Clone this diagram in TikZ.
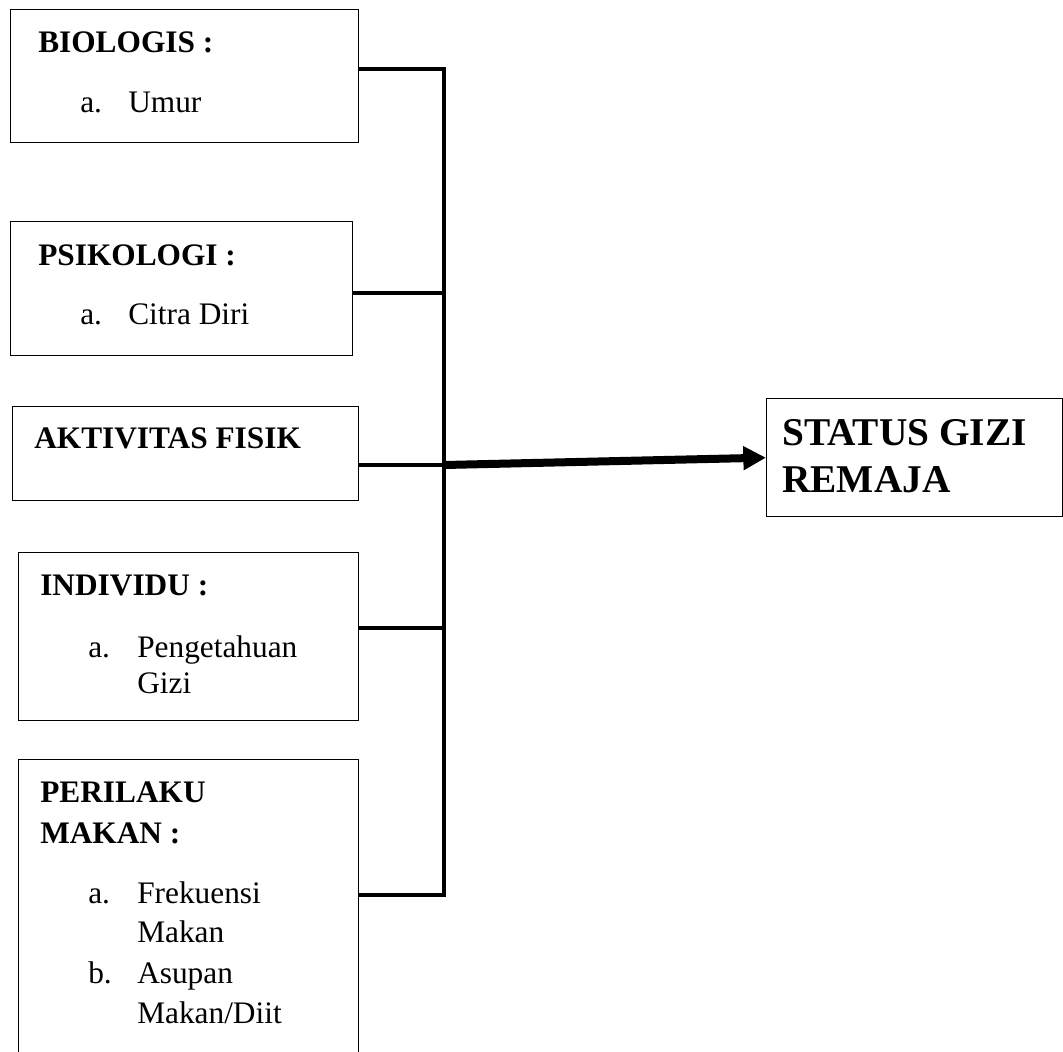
\documentclass[tikz,border=0pt]{standalone}
\usepackage{fontspec}
\setmainfont{Liberation Serif}
\usetikzlibrary{arrows.meta,calc}
\tikzset{
    faktor/.style = {
        draw,
        line width=1pt,
        rectangle,
        anchor=north west,
        inner sep=0pt,
        },
    judul/.style = {
        anchor=base west,
        inner sep=0pt,
        font=\fontsize{23.5pt}{30pt}\selectfont\bfseries,
        },
    isi/.style = {
        anchor=base west,
        inner sep=0pt,
        font=\fontsize{23.5pt}{30pt}\selectfont,
        },
    jalur/.style = {
        draw,
        line width=3.5pt,
        },
}

\begin{document}
\begin{tikzpicture}[x=0.75pt,y=-0.75pt]
            \clip (0,0) rectangle (1063,1051);
            \useasboundingbox (0,0) rectangle (1063,1051);
            % kotak faktor
            \node[faktor, minimum width=261pt, minimum height=99.75pt] (bio) at (10,9) {};
            \node[faktor, minimum width=256.5pt, minimum height=100.5pt] (psi) at (10,221) {};
            \node[faktor, minimum width=259.5pt, minimum height=70.5pt] (akt) at (12,406) {};
            \node[faktor, minimum width=255pt, minimum height=126pt] (ind) at (18,552) {};
            \node[faktor, minimum width=255pt, minimum height=233pt] (per) at (18,759) {};
            \node[faktor, minimum width=222pt, minimum height=88.5pt] (st) at (766,398) {};

            % teks
            \node[judul] (bio t) at (38,52) {BIOLOGIS :};
            \node[isi] (bio a) at (80,112) {a.};
            \node[isi] (bio a t) at (128,112) {Umur};
            \node[judul] (psi t) at (38,265) {PSIKOLOGI :};
            \node[isi] (psi a) at (80,324) {a.};
            \node[isi] (psi a t) at (128,324) {Citra Diri};
            \node[judul] (akt t) at (34,448) {AKTIVITAS FISIK};
            \node[judul] (ind t) at (40,595) {INDIVIDU :};
            \node[isi] (ind a) at (88,657) {a.};
            \node[isi] (ind a t) at (137,657) {Pengetahuan};
            \node[isi] (ind a t2) at (137,693) {Gizi};
            \node[judul] (per t) at (40,802) {PERILAKU};
            \node[judul] (per t2) at (40,843) {MAKAN :};
            \node[isi] (per a) at (88,903) {a.};
            \node[isi] (per a t) at (137,903) {Frekuensi};
            \node[isi] (per a t2) at (137,942) {Makan};
            \node[isi] (per b) at (88,983) {b.};
            \node[isi] (per b t) at (137,983) {Asupan};
            \node[isi] (per b t2) at (137,1023) {Makan/Diit};
            \node[judul, font=\fontsize{29.5pt}{35pt}\selectfont\bfseries] (st t) at (782,445) {STATUS GIZI};
            \node[judul, font=\fontsize{29.5pt}{35pt}\selectfont\bfseries] (st t2) at (782,492) {REMAJA};

            % garis penghubung
            \coordinate (j1) at (444,69);
            \coordinate (j2) at (444,293);
            \coordinate (j3) at (444,465);
            \coordinate (j4) at (444,628);
            \coordinate (j5) at (444,895);
            \path[jalur] (bio.east |- j1) -- (j1) -- (j5) -- (per.east |- j5);
            \path[jalur] (psi.east |- j2) -- (j2);
            \path[jalur] (akt.east |- j3) -- (j3);
            \path[jalur] (ind.east |- j4) -- (j4);
            \path[jalur, line width=6pt, -{Triangle[length=17pt,width=17pt]}] (j3) -- (st.west);
        \end{tikzpicture}
\end{document}
